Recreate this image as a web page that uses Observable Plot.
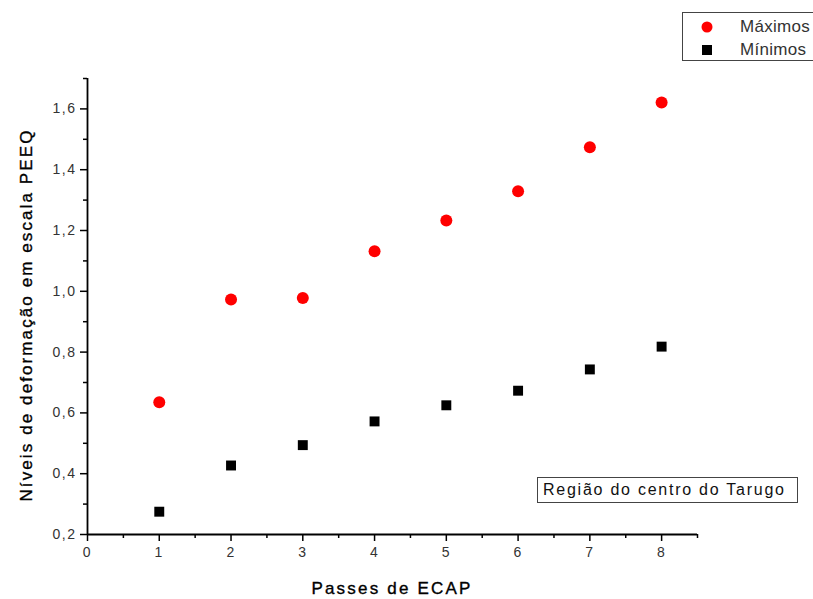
<!DOCTYPE html>
<html>
<head>
<meta charset="utf-8">
<script src="https://cdn.jsdelivr.net/npm/d3@7"></script>
<script src="https://cdn.jsdelivr.net/npm/@observablehq/plot@0.6"></script>
<style>
  html, body { margin: 0; padding: 0; background: #fff; }
  #wrap { position: relative; width: 813px; height: 599px; overflow: hidden;
          font-family: "Liberation Sans", Arial, sans-serif; color: #111; }
  #wrap svg { position: absolute; left: 0; top: 0; }
  .legend { position: absolute; left: 682px; top: 12px; width: 150px; height: 49px;
            border: 1px solid #444; box-sizing: border-box; background: #fff; }
  .legend .row { position: absolute; left: 0; height: 20px; line-height: 20px; font-size: 17px;
                 letter-spacing: 0.3px; color: #333; }
  .legend .sym { position: absolute; }
  .note { position: absolute; left: 537px; top: 477px; width: 261px; height: 26px;
          border: 1px solid #444; box-sizing: border-box; background: #fff;
          font-size: 16px; letter-spacing: 1.75px; line-height: 24px; padding-left: 5px;
          white-space: nowrap; color: #111; }
  .xtitle { position: absolute; left: 392px; top: 589px; transform: translate(-50%, -50%);
            font-size: 17px; letter-spacing: 2.2px; white-space: nowrap; color: #000;
            -webkit-text-stroke: 0.35px #000; }
  .ytitle { position: absolute; left: 27px; top: 315px;
            transform: translate(-50%, -50%) rotate(-90deg);
            font-size: 17px; letter-spacing: 2.1px; white-space: nowrap; color: #000;
            -webkit-text-stroke: 0.35px #000; }
</style>
</head>
<body>
<div id="wrap"></div>
<script>
// ---- data ----
const passes  = [1, 2, 3, 4, 5, 6, 7, 8];
const maximos = [0.635, 0.973, 0.978, 1.132, 1.233, 1.329, 1.474, 1.621];
const minimos = [0.275, 0.427, 0.494, 0.572, 0.625, 0.673, 0.743, 0.818];
const seriesNames = ["Máximos", "Mínimos"];
const xMajorTicks = [0, 1, 2, 3, 4, 5, 6, 7, 8];
const xMinorTicks = [0.5, 1.5, 2.5, 3.5, 4.5, 5.5, 6.5, 7.5, 8.5];
const yMajorTicks = [0.2, 0.4, 0.6, 0.8, 1.0, 1.2, 1.4, 1.6];
const yMinorTicks = [0.3, 0.5, 0.7, 0.9, 1.1, 1.3, 1.5, 1.7];
const xTitle = "Passes de ECAP";
const yTitle = "Níveis de deformação em escala PEEQ";
const noteText = "Região do centro do Tarugo";

const maxData = passes.map((p, i) => ({passe: p, valor: maximos[i]}));
const minData = passes.map((p, i) => ({passe: p, valor: minimos[i]}));

const fmt = d => d.toFixed(1).replace(".", ",");

const chart = Plot.plot({
  width: 813,
  height: 599,
  marginLeft: 87,
  marginRight: 116,
  marginTop: 78,
  marginBottom: 65,
  style: {fontFamily: "'Liberation Sans', Arial, sans-serif", fontSize: "14px",
          letterSpacing: "1.5px", background: "transparent", color: "#333"},
  x: {domain: [0, 8.5]},
  y: {domain: [0.2, 1.7]},
  marks: [
    Plot.axisX({ticks: xMajorTicks, tickSize: 7, tickPadding: 6, tickFormat: d => String(d),
                label: null, stroke: "#000", strokeWidth: 1.5, fill: "#333"}),
    Plot.axisX({ticks: xMinorTicks, tickSize: 4, tickFormat: () => "", label: null,
                stroke: "#000", strokeWidth: 1.5}),
    Plot.axisY({ticks: yMajorTicks, tickSize: 7, tickPadding: 4, tickFormat: fmt,
                label: null, stroke: "#000", strokeWidth: 1.5, fill: "#333"}),
    Plot.axisY({ticks: yMinorTicks, tickSize: 4, tickFormat: () => "", label: null,
                stroke: "#000", strokeWidth: 1.5}),
    Plot.ruleX([0], {y1: 0.2, y2: 1.7, stroke: "#000", strokeWidth: 1.8}),
    Plot.ruleY([0.2], {x1: 0, x2: 8.5, stroke: "#000", strokeWidth: 1.8}),
    Plot.dot(maxData, {x: "passe", y: "valor", r: 6, fill: "#ff0000", symbol: "circle"}),
    Plot.dot(minData, {x: "passe", y: "valor", r: 5.6, fill: "#000", symbol: "square"})
  ]
});

// enlarge the tick labels (inline style wins over any inherited font size)
d3.select(chart).selectAll("text")
  .style("font-size", "14px")
  .style("letter-spacing", "1.5px")
  .style("font-family", "'Liberation Sans', Arial, sans-serif");

const wrap = document.getElementById("wrap");
wrap.appendChild(chart);

// legend
const legend = document.createElement("div");
legend.className = "legend";
const symbols = [
  '<svg width="12" height="12"><circle cx="6" cy="6" r="5.5" fill="#ff0000"/></svg>',
  '<svg width="12" height="12"><rect x="1" y="1" width="10" height="10" fill="#000"/></svg>'
];
seriesNames.forEach((name, i) => {
  const top = i === 0 ? 4 : 27;
  const s = document.createElement("div");
  s.className = "sym";
  s.style.left = "18px";
  s.style.top = (top + 4) + "px";
  s.innerHTML = symbols[i];
  legend.appendChild(s);
  const r = document.createElement("div");
  r.className = "row";
  r.style.left = "57px";
  r.style.top = top + "px";
  r.textContent = name;
  legend.appendChild(r);
});
wrap.appendChild(legend);

// annotation
const note = document.createElement("div");
note.className = "note";
note.textContent = noteText;
wrap.appendChild(note);

// axis titles
const xt = document.createElement("div");
xt.className = "xtitle";
xt.textContent = xTitle;
wrap.appendChild(xt);
const yt = document.createElement("div");
yt.className = "ytitle";
yt.textContent = yTitle;
wrap.appendChild(yt);
</script>
</body>
</html>
